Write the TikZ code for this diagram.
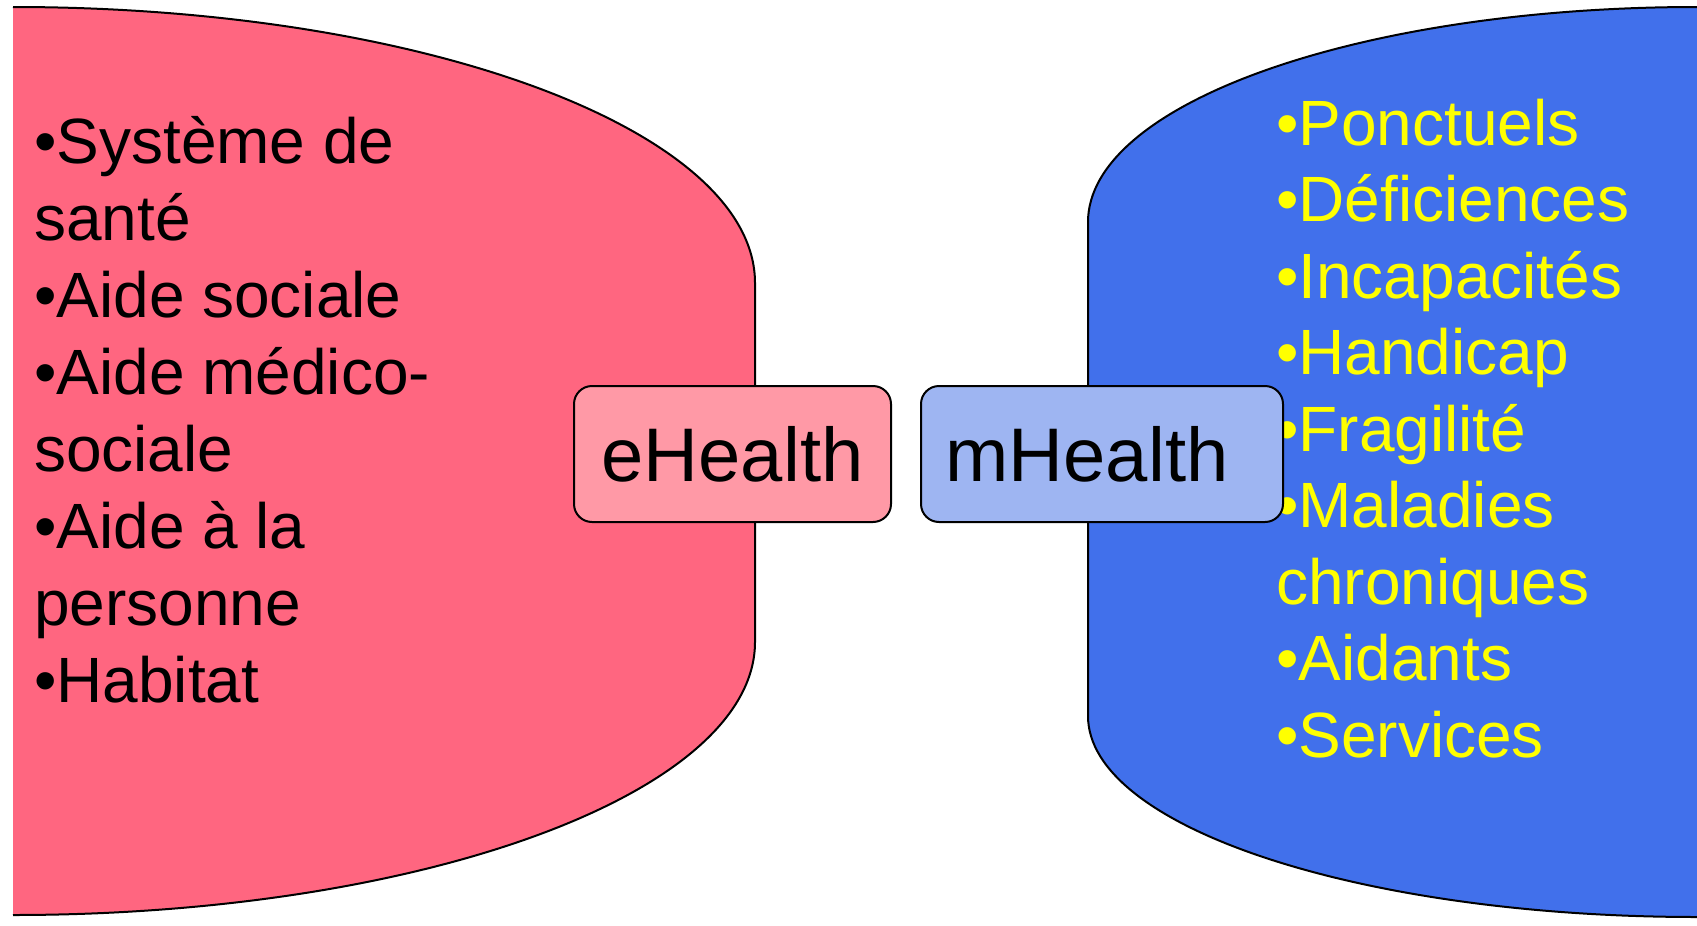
\documentclass[tikz,border=0pt]{standalone}
\usepackage{fontspec}
\setmainfont{Liberation Sans}
\definecolor{pinkfill}{RGB}{255,102,128}
\definecolor{pinkbox}{RGB}{255,153,166}
\definecolor{bluefill}{RGB}{65,112,235}
\definecolor{bluebox}{RGB}{158,181,242}
\definecolor{txtyellow}{RGB}{255,255,0}
\begin{document}
\begin{tikzpicture}[x=1pt,y=-1pt,
  listtext/.style={anchor=base west,inner sep=0pt,font=\fontsize{64}{77}\selectfont},
  hbox/.style={draw=black,line width=2pt,rounded corners=18pt,minimum height=136pt,inner sep=0pt,font=\fontsize{76}{90}\selectfont},
  outline/.style={draw=black,line width=2pt}]
\useasboundingbox (0,0) rectangle (1697,926);
% left shape
\fill[pinkfill] (13,7) .. controls (422.8,7) and (755,130.6) .. (755,283) -- (755,642)
  .. controls (755,792.8) and (422.8,915) .. (13,915) -- cycle;
\draw[outline] (13,7) .. controls (422.8,7) and (755,130.6) .. (755,283) -- (755,642)
  .. controls (755,792.8) and (422.8,915) .. (13,915);
% right shape
\fill[bluefill] (1697,7) .. controls (1360.6,7) and (1088,103.3) .. (1088,222) -- (1088,716)
  .. controls (1088,827) and (1360.6,917) .. (1697,917) -- cycle;
\draw[outline] (1697,7) .. controls (1360.6,7) and (1088,103.3) .. (1088,222) -- (1088,716)
  .. controls (1088,827) and (1360.6,917) .. (1697,917);
% left list
\foreach \t [count=\i] in {•Système de,santé,•Aide sociale,•Aide médico-,sociale,•Aide à la,personne,•Habitat}
  \node[listtext] (l\i) at (34,{163+77*(\i-1)}) {\t};
% right list
\foreach \t [count=\i] in {•Ponctuels,•Déficiences,•Incapacités,•Handicap,•Fragilité,•Maladies,chroniques,•Aidants,•Services}
  \node[listtext,text=txtyellow] (r\i) at (1276,{145+76.5*(\i-1)}) {\t};
% boxes
\node[hbox,fill=pinkbox,minimum width=317pt] (eh) at (732.5,454) {eHealth};
\node[hbox,fill=bluebox,minimum width=362pt] (mh) at (1102,454) {mHealth\hspace*{30pt}};
\end{tikzpicture}
\end{document}
